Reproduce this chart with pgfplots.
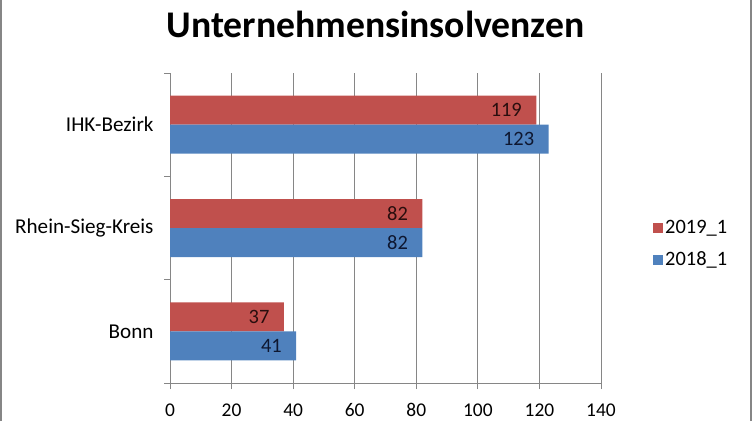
\documentclass[border=0pt]{standalone}
\usepackage{fontspec}
\setmainfont{Carlito}
\usepackage{pgfplots}
\pgfplotsset{compat=1.18}
\definecolor{xred}{HTML}{C0504D}
\definecolor{xblue}{HTML}{4F81BD}
\definecolor{axgray}{HTML}{868686}
\definecolor{lblred}{HTML}{2A0E0E}
\definecolor{lblblue}{HTML}{0E1730}
\begin{document}
\begin{tikzpicture}[x=1bp,y=1bp]
\path[use as bounding box] (0,0) rectangle (752,421);
\draw[axgray, line width=2bp] (1,0) -- (1,421);
\draw[axgray, line width=2bp] (751,0) -- (751,421);
\node[font=\bfseries\fontsize{37.8}{40}\selectfont, anchor=base, inner sep=0pt] at (375.5,384) {Unternehmensinsolvenzen};
\begin{axis}[
  at={(170bp,38bp)}, anchor=south west,
  scale only axis, width=431bp, height=310bp,
  xbar, bar width=29bp,
  xmin=0, xmax=140, xtick={0,20,...,140},
  ymin=-0.5, ymax=2.5,
  ytick={-0.5,0.5,1.5,2.5}, yticklabels={},
  extra y ticks={0,1,2},
  extra y tick labels={Bonn,Rhein-Sieg-Kreis,IHK-Bezirk},
  extra y tick style={major tick length=0pt, grid=none},
  axis x line*=bottom, axis y line*=left,
  axis line style={-, draw=axgray, line width=0.8bp},
  tick style={draw=axgray, line width=0.8bp},
  tick align=outside, major tick length=6bp,
  xmajorgrids, major grid style={draw=axgray, line width=0.8bp},
  /pgf/number format/assume math mode=true,
  tick label style={font=\fontsize{21.2}{25}\selectfont, text=black},
  xticklabel style={inner sep=0pt, yshift=-14.5bp, font=\fontsize{19.5}{23}\selectfont},
  yticklabel style={xshift=-13bp},
  legend style={at={(1.1137,0.45)}, anchor=west, draw=none, fill=none,
    font=\fontsize{20.5}{25}\selectfont, row sep=9bp,
    nodes={inner sep=2bp, text height=15bp, text depth=4bp}},
  legend cell align=left,
  legend image code/.code={\fill[#1] (-2bp,-5bp) rectangle (8bp,5bp);},
  nodes near coords,
  every node near coord/.append style={anchor=east, xshift=-11bp, font=\fontsize{20.5}{25}\selectfont},
]
\addplot[fill=xred, draw=none, bar shift=14.5bp, every node near coord/.append style={text=lblred}] coordinates {(37,0) (82,1) (119,2)};
\addplot[fill=xblue, draw=none, bar shift=-14.5bp, every node near coord/.append style={text=lblblue}] coordinates {(41,0) (82,1) (123,2)};
\legend{2019\_1,2018\_1}
\end{axis}
\end{tikzpicture}
\end{document}
